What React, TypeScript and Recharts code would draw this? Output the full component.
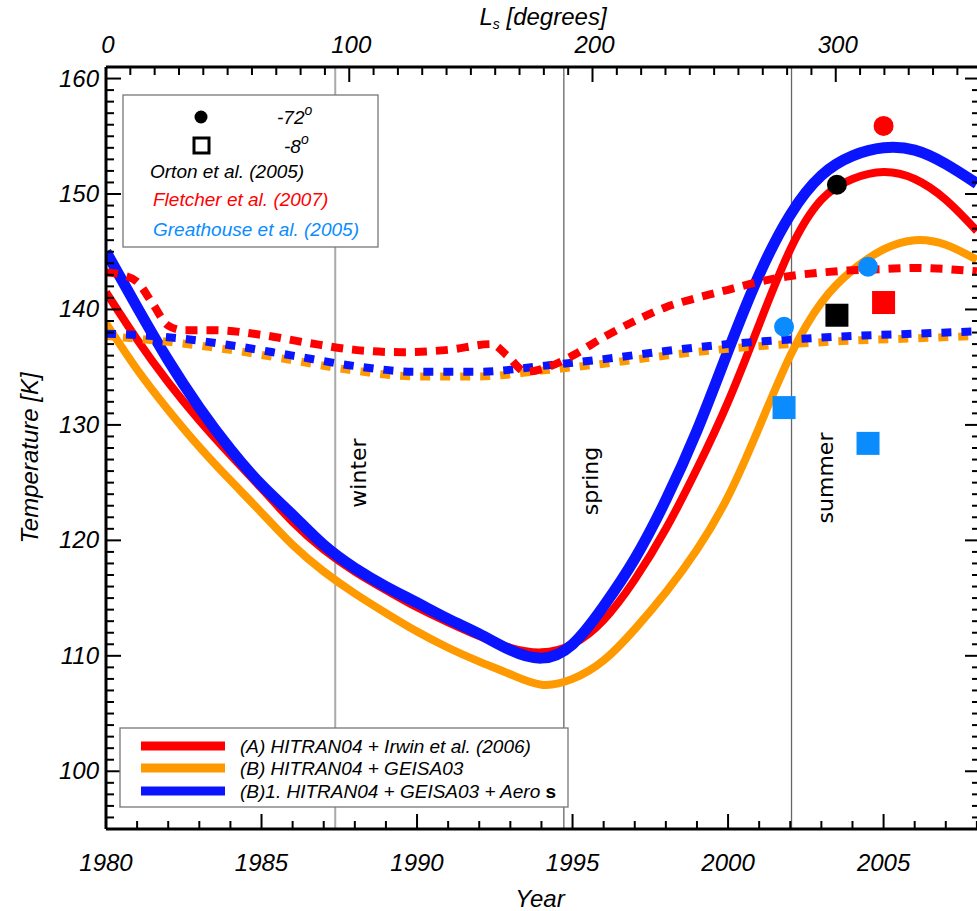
import { ComposedChart, Line, Scatter, XAxis, YAxis, ReferenceLine } from 'recharts';

const FONT = "'Liberation Sans', Arial, Helvetica, sans-serif";

// model curves, sampled once a year
const YEARS = [
  1980, 1981, 1982, 1983, 1984, 1985, 1986, 1987, 1988, 1989, 1990, 1991, 1992, 1993, 1994,
  1995, 1996, 1997, 1998, 1999, 2000, 2001, 2002, 2003, 2004, 2005, 2006, 2007, 2008,
];
// (A) HITRAN04 + Irwin et al. (2006), -72 deg
const MODEL_A = [
  141.5, 137.4, 133.7, 130.4, 127.4, 124.5, 121.6, 119.2, 117.3, 115.7, 114.2, 112.9, 111.7, 110.7, 110.3,
  111.0, 113.1, 116.6, 121.0, 126.2, 132.0, 138.7, 145.2, 149.5, 151.3, 151.9, 151.3, 149.5, 146.8,
];
// (B) HITRAN04 + GEISA03, -72 deg
const MODEL_B = [
  138.8, 134.8, 131.3, 128.1, 125.2, 122.4, 119.6, 117.3, 115.4, 113.7, 112.1, 110.7, 109.5, 108.4, 107.5,
  108.0, 109.6, 112.3, 115.5, 119.2, 123.8, 129.8, 136.0, 140.6, 143.4, 145.2, 146.0, 145.6, 144.3,
];
// (B)1. HITRAN04 + GEISA03 + aerosols, -72 deg
const MODEL_B1 = [
  145.0, 140.2, 135.6, 131.5, 127.9, 124.8, 122.2, 119.6, 117.6, 116.0, 114.6, 113.2, 111.9, 110.5, 109.8,
  111.0, 114.3, 118.4, 123.5, 129.5, 136.4, 143.0, 148.2, 151.6, 153.3, 154.0, 153.8, 152.6, 150.9,
];

// -8 deg model curves (dotted)
const EQ_YEARS = [1980, 1982, 1984, 1986, 1988, 1990, 1992, 1994, 1996, 1998, 2000, 2002, 2004, 2006, 2008];
const EQ_B = [137.7, 137.2, 136.5, 135.6, 134.7, 134.2, 134.2, 134.7, 135.3, 136.0, 136.6, 137.0, 137.3, 137.5, 137.7];
const EQ_B1 = [137.9, 137.6, 136.9, 136.0, 135.1, 134.6, 134.6, 135.1, 135.7, 136.4, 137.0, 137.4, 137.7, 137.9, 138.1];
const EQ_A_YEARS = [
  1980, 1980.5, 1981, 1981.5, 1982, 1982.5, 1983.5, 1985, 1986.5, 1988, 1989.5, 1991, 1992.4, 1992.9,
  1993.5, 1994.2, 1995, 1996, 1997, 1998, 1999, 2000, 2001, 2002, 2003, 2004, 2005, 2006, 2007, 2008,
];
const EQ_A = [
  143.2, 143.0, 142.4, 140.5, 138.6, 138.2, 138.2, 137.8, 137.1, 136.5, 136.3, 136.5, 137.0, 136.0,
  134.6, 135.0, 136.0, 137.6, 139.0, 140.2, 141.0, 141.7, 142.4, 142.9, 143.2, 143.4, 143.5, 143.6, 143.5, 143.3,
];

// observations
const ORTON_72 = [{ x: 2003.5, t: 150.8 }];
const ORTON_8 = [{ x: 2003.5, t: 139.5 }];
const FLETCHER_72 = [{ x: 2005.0, t: 155.9 }];
const FLETCHER_8 = [{ x: 2005.0, t: 140.6 }];
const GREATHOUSE_72 = [{ x: 2001.8, t: 138.5 }, { x: 2004.5, t: 143.7 }];
const GREATHOUSE_8 = [{ x: 2001.8, t: 131.5 }, { x: 2004.5, t: 128.4 }];

const SEASONS = [
  { name: 'winter', year: 1987.37 },
  { name: 'spring', year: 1994.72 },
  { name: 'summer', year: 2002.04 },
];

const YEAR_TICKS = Array.from({ length: 29 }, (_, i) => 1980 + i);
const LS_TICKS = Array.from({ length: 36 }, (_, i) => i * 10);
const LS_RANGE = [0, 359.3];
const T_TICKS = Array.from({ length: 67 }, (_, i) => 95 + i);

const RED = '#ff0000';
const ORANGE = '#ff9900';
const BLUE = '#0a14ff';
const SKY = '#0a8cff';

const toRows = (xs: number[], ys: number[]) => xs.map((x, i) => ({ x, t: ys[i] }));

const labelStyle = { fontFamily: FONT, fontStyle: 'italic' as const, fontSize: 24, fill: '#000' };

const BottomTick = ({ x, y, payload }: any) => {
  const major = payload.value % 5 === 0;
  return (
    <g>
      <line x1={x} y1={y} x2={x} y2={y - (major ? 15 : 8)} stroke="#000" strokeWidth={2} />
      {major && (
        <text x={x} y={y + 42} textAnchor="middle" {...labelStyle}>
          {payload.value}
        </text>
      )}
    </g>
  );
};

const TopTick = ({ x, y, payload }: any) => {
  const major = payload.value % 100 === 0;
  return (
    <g>
      <line x1={x} y1={y} x2={x} y2={y + (major ? 15 : 8)} stroke="#000" strokeWidth={2} />
      {major && (
        <text x={x + 2} y={y - 14} textAnchor="middle" {...labelStyle}>
          {payload.value}
        </text>
      )}
    </g>
  );
};

const LeftTick = ({ x, y, payload }: any) => {
  const major = payload.value % 10 === 0;
  return (
    <g>
      <line x1={x} y1={y} x2={x + (major ? 15 : 8)} y2={y} stroke="#000" strokeWidth={2} />
      {major && (
        <text x={x - 7} y={y + 8} textAnchor="end" {...labelStyle}>
          {payload.value}
        </text>
      )}
    </g>
  );
};

const RightTick = ({ x, y, payload }: any) => {
  const major = payload.value % 10 === 0;
  return <line x1={x} y1={y} x2={x - (major ? 15 : 8)} y2={y} stroke="#000" strokeWidth={2} />;
};

const dot = (color: string) => (p: any) => <circle cx={p.cx} cy={p.cy} r={10} fill={color} />;
const square = (color: string) => (p: any) => (
  <rect x={p.cx - 11.5} y={p.cy - 11.5} width={23} height={23} fill={color} />
);

const legendText = { fontFamily: FONT, fontStyle: 'italic' as const, fontSize: 19 };

export default function App() {
  return (
    <div
      style={{
        position: 'absolute',
        left: 0,
        top: 0,
        width: 977,
        height: 911,
        overflow: 'hidden',
        background: '#fff',
      }}
    >
      <ComposedChart width={1000} height={911} margin={{ top: 0, right: 0, bottom: 0, left: 0 }}>
        <XAxis
          xAxisId="year"
          dataKey="x"
          type="number"
          orientation="bottom"
          domain={[1980, 2008.1]}
          allowDataOverflow
          ticks={YEAR_TICKS}
          interval={0}
          height={82}
          tickSize={0}
          tickMargin={0}
          tickLine={false}
          tick={<BottomTick />}
          axisLine={{ stroke: '#000', strokeWidth: 3 }}
        />
        <XAxis
          xAxisId="ls"
          dataKey="x"
          type="number"
          orientation="top"
          domain={LS_RANGE}
          allowDataOverflow
          ticks={LS_TICKS}
          interval={0}
          height={67}
          tickSize={0}
          tickMargin={0}
          tickLine={false}
          tick={<TopTick />}
          axisLine={{ stroke: '#000', strokeWidth: 3 }}
        />
        <YAxis
          yAxisId="temp"
          dataKey="t"
          type="number"
          orientation="left"
          domain={[95, 161]}
          allowDataOverflow
          ticks={T_TICKS}
          interval={0}
          width={106}
          tickSize={0}
          tickMargin={0}
          tickLine={false}
          tick={<LeftTick />}
          axisLine={{ stroke: '#000', strokeWidth: 3 }}
        />
        <YAxis
          yAxisId="right"
          dataKey="t"
          type="number"
          orientation="right"
          domain={[95, 161]}
          allowDataOverflow
          ticks={T_TICKS}
          interval={0}
          width={20}
          tickSize={0}
          tickMargin={0}
          tickLine={false}
          tick={<RightTick />}
          axisLine={{ stroke: '#000', strokeWidth: 3 }}
        />

        {/* invisible series so the Ls axis gets drawn */}
        <Line data={LS_RANGE.map((x) => ({ x, t: 95 }))} dataKey="t" xAxisId="ls" yAxisId="right"
          stroke="none" dot={false} activeDot={false} legendType="none" isAnimationActive={false} />

        {SEASONS.map((s, i) => (
          <ReferenceLine
            key={s.name}
            xAxisId="year"
            yAxisId="temp"
            x={s.year}
            stroke={i === 0 ? '#aaaaaa' : '#666666'}
            strokeWidth={i === 0 ? 2 : 1.3}
          />
        ))}

        <Line data={toRows(YEARS, MODEL_B)} dataKey="t" xAxisId="year" yAxisId="temp" type="natural"
          stroke={ORANGE} strokeWidth={8} dot={false} isAnimationActive={false} />
        <Line data={toRows(YEARS, MODEL_A)} dataKey="t" xAxisId="year" yAxisId="temp" type="natural"
          stroke={RED} strokeWidth={8} dot={false} isAnimationActive={false} />
        <Line data={toRows(YEARS, MODEL_B1)} dataKey="t" xAxisId="year" yAxisId="temp" type="natural"
          stroke={BLUE} strokeWidth={11} dot={false} isAnimationActive={false} />

        <Line data={toRows(EQ_YEARS, EQ_B)} dataKey="t" xAxisId="year" yAxisId="temp" type="monotone"
          stroke={ORANGE} strokeWidth={8} strokeDasharray="10 10" strokeDashoffset={3} dot={false} isAnimationActive={false} />
        <Line data={toRows(EQ_YEARS, EQ_B1)} dataKey="t" xAxisId="year" yAxisId="temp" type="monotone"
          stroke={BLUE} strokeWidth={8} strokeDasharray="10 10" dot={false} isAnimationActive={false} />
        <Line data={toRows(EQ_A_YEARS, EQ_A)} dataKey="t" xAxisId="year" yAxisId="temp" type="monotone"
          stroke={RED} strokeWidth={8} strokeDasharray="12 9" dot={false} isAnimationActive={false} />

        <Scatter data={GREATHOUSE_72} xAxisId="year" yAxisId="temp" shape={dot(SKY)} isAnimationActive={false} />
        <Scatter data={GREATHOUSE_8} xAxisId="year" yAxisId="temp" shape={square(SKY)} isAnimationActive={false} />
        <Scatter data={ORTON_72} xAxisId="year" yAxisId="temp" shape={dot('#000')} isAnimationActive={false} />
        <Scatter data={ORTON_8} xAxisId="year" yAxisId="temp" shape={square('#000')} isAnimationActive={false} />
        <Scatter data={FLETCHER_72} xAxisId="year" yAxisId="temp" shape={dot(RED)} isAnimationActive={false} />
        <Scatter data={FLETCHER_8} xAxisId="year" yAxisId="temp" shape={square(RED)} isAnimationActive={false} />
      </ComposedChart>

      <svg width={977} height={911} style={{ position: 'absolute', left: 0, top: 0, pointerEvents: 'none' }}>
        <text x={543} y={25} textAnchor="middle" {...labelStyle}>
          L<tspan fontSize={14} dy={4}>s</tspan>
          <tspan dy={-4}> [degrees]</tspan>
        </text>
        <text x={540} y={907} textAnchor="middle" {...labelStyle}>
          Year
        </text>
        <text transform="translate(38,458) rotate(-90)" textAnchor="middle" {...labelStyle}>
          Temperature [K]
        </text>

        <text transform="translate(366,473) rotate(-90)" textAnchor="middle" fontFamily="'DejaVu Sans', sans-serif" fontSize={22}>
          winter
        </text>
        <text transform="translate(598,481) rotate(-90)" textAnchor="middle" fontFamily="'DejaVu Sans', sans-serif" fontSize={22}>
          spring
        </text>
        <text transform="translate(833,478) rotate(-90)" textAnchor="middle" fontFamily="'DejaVu Sans', sans-serif" fontSize={22}>
          summer
        </text>

        <rect x={123} y={95} width={255} height={152} fill="#fff" stroke="#777" strokeWidth={1.3} />
        <circle cx={201} cy={117} r={6.5} fill="#000" />
        <rect x={194} y={138} width={15} height={15} fill="none" stroke="#000" strokeWidth={3} />
        <text x={277} y={124} {...legendText}>
          -72<tspan fontSize={14} dy={-9}>o</tspan>
        </text>
        <text x={284} y={153} {...legendText}>
          -8<tspan fontSize={14} dy={-9}>o</tspan>
        </text>
        <text x={150} y={178} {...legendText} fill="#000">Orton et al. (2005)</text>
        <text x={153} y={206} {...legendText} fill={RED}>Fletcher et al. (2007)</text>
        <text x={153} y={236} {...legendText} fill={SKY}>Greathouse et al. (2005)</text>

        <rect x={120} y={728} width={448} height={79} fill="#fff" stroke="#777" strokeWidth={1.3} />
        <line x1={141} y1={746} x2={225} y2={746} stroke={RED} strokeWidth={9} />
        <line x1={141} y1={768} x2={225} y2={768} stroke={ORANGE} strokeWidth={9} />
        <line x1={141} y1={791} x2={225} y2={791} stroke={BLUE} strokeWidth={9} />
        <text x={240} y={753} {...legendText}>(A) HITRAN04 + Irwin et al. (2006)</text>
        <text x={240} y={775} {...legendText}>(B) HITRAN04 + GEISA03</text>
        <text x={240} y={798} {...legendText}>
          (B)1. HITRAN04 + GEISA03 + Aero <tspan fontStyle="normal" fontWeight="bold">s</tspan>
        </text>
      </svg>
    </div>
  );
}
